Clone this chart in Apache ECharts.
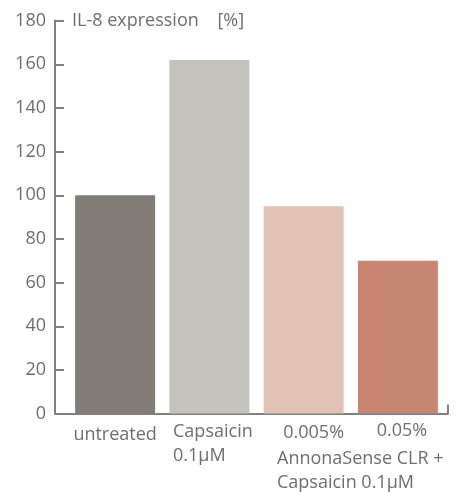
<!DOCTYPE html>
<html>
<head>
<meta charset="utf-8">
<script src="https://cdn.jsdelivr.net/npm/echarts@6/dist/echarts.min.js"></script>
<style>
  html, body { margin: 0; padding: 0; background: #fff; }
  #chart { width: 458px; height: 492px; }
</style>
</head>
<body>
<div id="chart"></div>
<script>
// IL-8 expression by treatment
const categories = ['untreated', 'Capsaicin\n0.1μM', '0.005%', '0.05%'];
const values = [100, 162, 95, 70];
const barColors = ['#827c77', '#c3c2bd', '#e2c2b5', '#c88574'];
const yTicks = [0, 20, 40, 60, 80, 100, 120, 140, 160, 180];
const axisTitle = 'IL-8 expression    [%]';
const groupCaption = 'AnnonaSense CLR +\nCapsaicin 0.1μM';

const FONT = '"Open Sans", "Noto Sans", sans-serif';
const TEXT = '#6e6e6e';
const AXIS = '#808080';
const FS = 18;

// per-label nudges under each bar: [top, right, bottom, left] padding
const labelPads = [[4, 0, 0, 0], [1, 0, 0, 7], [2, 0, 0, 20], [0, 0, 0, 8]];

const chart = echarts.init(document.getElementById('chart'), null, { renderer: 'canvas' });

const option = {
  animation: false,
  backgroundColor: '#ffffff',
  title: [
    {
      text: axisTitle,
      left: 72, top: 9, padding: 0,
      textStyle: { fontFamily: FONT, fontSize: FS, fontWeight: 'normal', color: TEXT, lineHeight: 24 }
    },
    {
      text: groupCaption,
      left: 277, top: 447, padding: 0,
      textStyle: { fontFamily: FONT, fontSize: FS, fontWeight: 'normal', color: TEXT, lineHeight: 24 }
    }
  ],
  grid: [
    // bars
    { left: 68, right: 13, top: 20.6, bottom: 78.4, containLabel: false },
    // frame: axis lines and tick labels
    { left: 55, right: 10, top: 20.6, bottom: 78.4, containLabel: false }
  ],
  xAxis: [
    {
      type: 'category',
      gridIndex: 0,
      data: categories.map(function (c, i) {
        return { value: c, textStyle: { padding: labelPads[i] } };
      }),
      axisLine: { show: false },
      axisTick: { show: false },
      axisLabel: {
        interval: 0,
        margin: 5,
        fontFamily: FONT,
        fontSize: FS,
        color: TEXT,
        lineHeight: 24,
        formatter: function (v) {
          if (v.indexOf('\n') >= 0) {
            return v.split('\n').map(function (s) { return '{l|' + s + '}'; }).join('\n');
          }
          return v;
        },
        rich: {
          l: { align: 'left', fontFamily: FONT, fontSize: FS, color: TEXT, lineHeight: 24 }
        }
      }
    },
    {
      type: 'value',
      gridIndex: 1,
      min: 0, max: 1, interval: 1,
      axisLine: { show: true, lineStyle: { color: AXIS, width: 2 } },
      axisTick: { show: true, inside: true, length: 9, lineStyle: { color: AXIS, width: 2 } },
      axisLabel: { show: false },
      splitLine: { show: false }
    }
  ],
  yAxis: [
    {
      type: 'value',
      gridIndex: 0,
      min: yTicks[0], max: yTicks[yTicks.length - 1], interval: 20,
      show: false
    },
    {
      type: 'value',
      gridIndex: 1,
      min: yTicks[0], max: yTicks[yTicks.length - 1], interval: 20,
      axisLine: { show: true, lineStyle: { color: AXIS, width: 2 } },
      axisTick: { show: true, inside: true, length: 9, lineStyle: { color: AXIS, width: 2 } },
      axisLabel: { margin: 9, fontFamily: FONT, fontSize: FS, color: TEXT },
      splitLine: { show: false }
    }
  ],
  series: [
    {
      type: 'bar',
      xAxisIndex: 0,
      yAxisIndex: 0,
      barWidth: 80,
      data: values.map(function (v, i) {
        return { value: v, itemStyle: { color: barColors[i] } };
      })
    }
  ]
};

chart.setOption(option);
</script>
</body>
</html>
